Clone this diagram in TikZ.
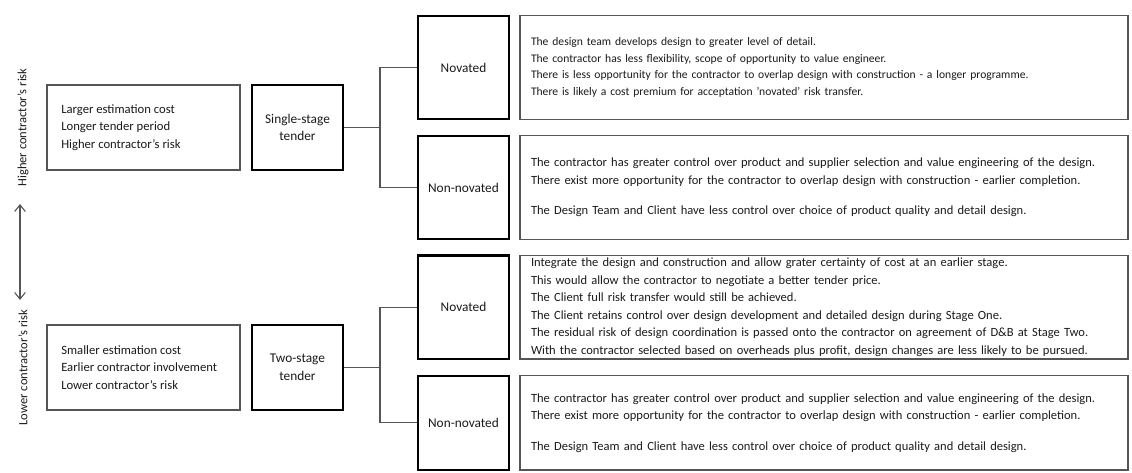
\documentclass[tikz,border=0pt]{standalone}
\usepackage{fontspec}
\setmainfont{Carlito}
\usetikzlibrary{arrows.meta}
\definecolor{edge}{HTML}{555555}
\definecolor{ink}{HTML}{1A1A1A}
\begin{document}
\begin{tikzpicture}[x=0.75pt,y=-0.75pt,
  every node/.style={text=ink},
  attrbox/.style={draw=edge,line width=0.9pt,minimum width=144.75pt,minimum height=63.75pt,inner sep=0pt},
  attrtext/.style={anchor=west,inner sep=0pt,align=left,font=\fontsize{9.5}{13.1}\selectfont},
  tenderbox/.style={draw=black,line width=1.6pt,minimum width=68.25pt,minimum height=63.75pt,
    align=center,inner sep=0pt,font=\fontsize{10}{13.1}\selectfont},
  kindbox/.style={draw=black,line width=1.6pt,minimum width=68.25pt,minimum height=77.6pt,
    align=center,inner sep=0pt,font=\fontsize{10}{13.1}\selectfont},
  descbox/.style={draw=edge,line width=0.9pt,minimum width=456pt,minimum height=77.6pt,
    inner xsep=8.25pt,inner ysep=0pt,text width=439.5pt,align=left,
    font=\fontsize{9.4}{13}\selectfont},
  sidelabel/.style={rotate=90,inner sep=0pt,font=\fontsize{9.4}{12}\selectfont},
  link/.style={draw=edge,line width=0.9pt}]
\useasboundingbox (0,0) rectangle (1132,473);

% risk scale on the left
\node[sidelabel] (hi) at (23,127.5) {Higher contractor's risk};
\node[sidelabel] (lo) at (23,367.5) {Lower contractor's risk};
\coordinate (atop) at (20,204);
\coordinate (abot) at (20,300);
\draw[edge,line width=0.8pt,{Straight Barb[length=5pt,width=8pt]}-{Straight Barb[length=5pt,width=8pt]}] (atop) -- (abot);

% tender characteristics
\node[attrbox] (a1) at (143.5,127.5) {};
\node[attrtext] (a1t) at (61,127.5) {Larger estimation cost\\Longer tender period\\Higher contractor's risk};
\node[attrbox] (a2) at (143.5,367.5) {};
\node[attrtext] (a2t) at (61,367.5) {Smaller estimation cost\\Earlier contractor involvement\\Lower contractor's risk};

% tender types
\node[tenderbox] (t1) at (297.5,127.5) {Single-stage\\tender};
\node[tenderbox] (t2) at (297.5,367.5) {Two-stage\\tender};

% novation options
\node[kindbox] (n1) at (463.5,67.5) {Novated};
\node[kindbox] (m1) at (463.5,187.5) {Non-novated};
\node[kindbox] (n2) at (463.5,307.3) {Novated};
\node[kindbox,minimum height=70.7pt] (m2) at (463.5,422.9) {Non-novated};

% descriptions
\node[descbox,font=\fontsize{8.7}{12.5}\selectfont] (d1) at (824,67.5) {The design team develops design to greater level of detail.\\
The contractor has less flexibility, scope of opportunity to value engineer.\\
There is less opportunity for the contractor to overlap design with construction - a longer programme.\\
There is likely a cost premium for acceptation 'novated' risk transfer.};
\node[descbox] (d2) at (824,187.5) {The contractor has greater control over product and supplier selection and value engineering of the design.\\
There exist more opportunity for the contractor to overlap design with construction - earlier completion.\\[10pt]
The Design Team and Client have less control over choice of product quality and detail design.};
\node[descbox,font=\fontsize{9.4}{13.1}\selectfont] (d3) at (824,307.3) {Integrate the design and construction and allow grater certainty of cost at an earlier stage.\\
This would allow the contractor to negotiate a better tender price.\\
The Client full risk transfer would still be achieved.\\
The Client retains control over design development and detailed design during Stage One.\\
The residual risk of design coordination is passed onto the contractor on agreement of D\&B at Stage Two.\\
With the contractor selected based on overheads plus profit, design changes are less likely to be pursued.};
\node[descbox,minimum height=70.7pt] (d4) at (824,422.9) {The contractor has greater control over product and supplier selection and value engineering of the design.\\
There exist more opportunity for the contractor to overlap design with construction - earlier completion.\\[10pt]
The Design Team and Client have less control over choice of product quality and detail design.};

% branching connectors
\coordinate (j1) at (380,127.5);
\coordinate (j2) at (380,367.5);
\draw[link] (t1.east) -- (j1);
\draw[link] (n1.west) -| (j1) |- (m1.west);
\draw[link] (t2.east) -- (j2);
\draw[link] (n2.west) -| (j2) |- (m2.west);
\end{tikzpicture}
\end{document}
